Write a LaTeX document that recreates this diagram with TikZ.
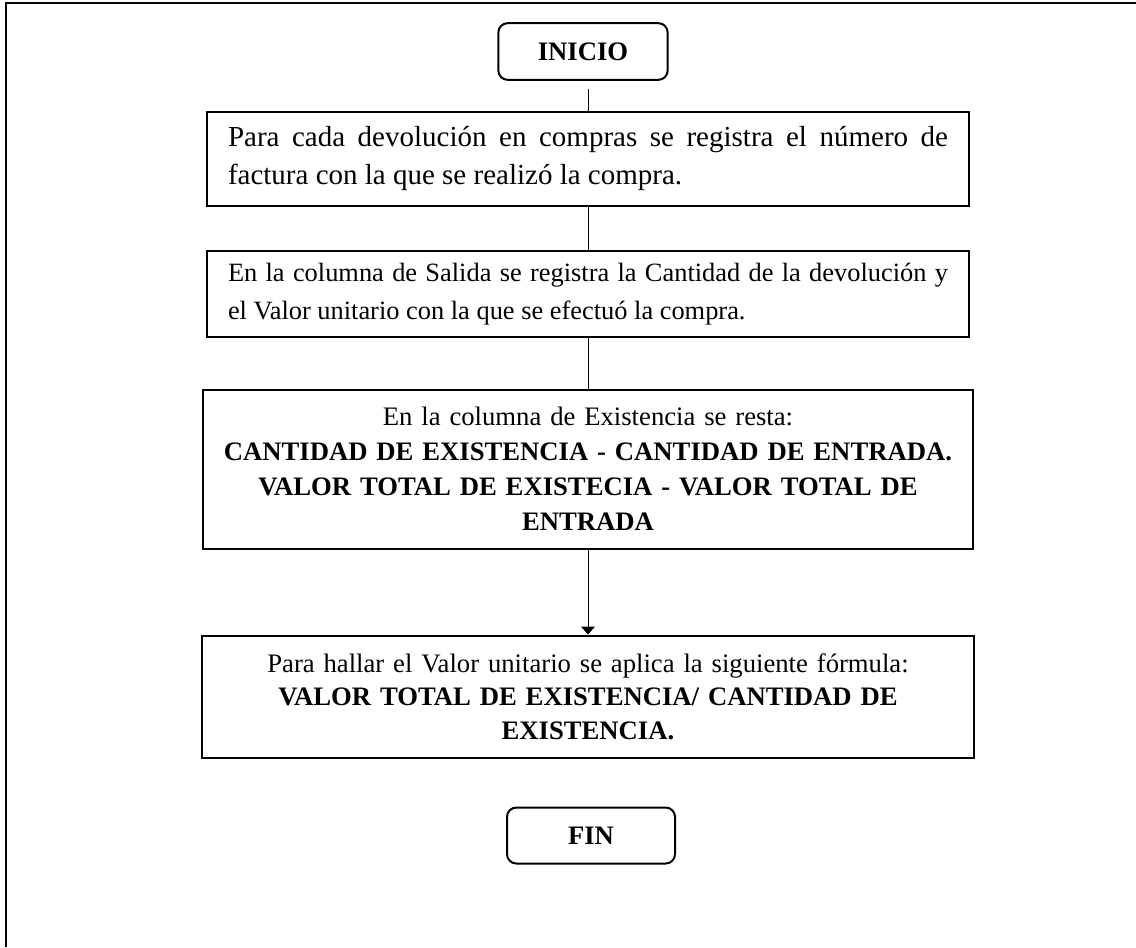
\documentclass[tikz,border=0pt]{standalone}
\usepackage{fontspec}
\setmainfont{Liberation Serif}
\usepackage{tikz}
\usetikzlibrary{positioning, arrows.meta}
\tikzset{
  terminal/.style={
    rectangle, rounded corners=7pt, draw, line width=1.5pt,
    minimum width=127pt, minimum height=42.5pt,
    font=\fontsize{20}{24}\selectfont\bfseries
  },
  stepbox/.style={
    rectangle, draw, line width=1.5pt, inner xsep=16pt,
    text width=540pt
  },
  link/.style={draw, line width=0.75pt},
  every edge/.style={link, -{Triangle[length=6pt,width=10.5pt]}},
}

\begin{document}
\begin{tikzpicture}[x=0.75pt, y=-0.75pt]
  \useasboundingbox (0,0) rectangle (1136,947);
  % marco de la hoja
  \draw[line width=1.8pt] (6,947) -- (6,3) -- (1136,3);

  \node[terminal] (inicio) at (583,51.5) {INICIO};
  \node[stepbox, below=22.5pt of inicio, xshift=3.75pt, minimum height=70.5pt,
        align=justify, font=\fontsize{21.75}{28.5}\selectfont] (registro)
        {Para cada devolución en compras se registra el número de\linebreak
         factura con la que se realizó la compra.};
  \node[stepbox, below=32.25pt of registro, minimum height=64.5pt,
        align=justify, font=\fontsize{19.8}{28.5}\selectfont] (salida)
        {En la columna de Salida se registra la Cantidad de la devolución y\linebreak
         el Valor unitario con la que se efectuó la compra.};
  \node[stepbox, below=38.25pt of salida, minimum height=119pt, text width=566pt,
        inner xsep=6pt, align=center, font=\fontsize{20}{26.25}\selectfont] (resta)
        {En la columna de Existencia se resta:\\
         \textbf{CANTIDAD DE EXISTENCIA - CANTIDAD DE ENTRADA.}\\
         \textbf{VALOR TOTAL DE EXISTECIA - VALOR TOTAL DE}\\
         \textbf{ENTRADA}};
  \node[stepbox, below=63.75pt of resta, minimum height=91.5pt, text width=566pt,
        inner xsep=6.5pt, align=center, font=\fontsize{20}{25}\selectfont] (formula)
        {Para hallar el Valor unitario se aplica la siguiente fórmula:\\
         \textbf{VALOR TOTAL DE EXISTENCIA/ CANTIDAD DE}\\
         \textbf{EXISTENCIA.}};
  \node[terminal, below=36pt of formula, xshift=2.25pt, minimum width=126pt,
        minimum height=42pt] (fin) {FIN};

  \coordinate[above=16.5pt of registro.north] (inicio-sal);
  \draw[link] (inicio-sal) -- (registro);
  \draw[link] (registro) -- (salida);
  \draw[link] (salida) -- (resta);
  \path (resta) edge (formula);
\end{tikzpicture}
\end{document}
